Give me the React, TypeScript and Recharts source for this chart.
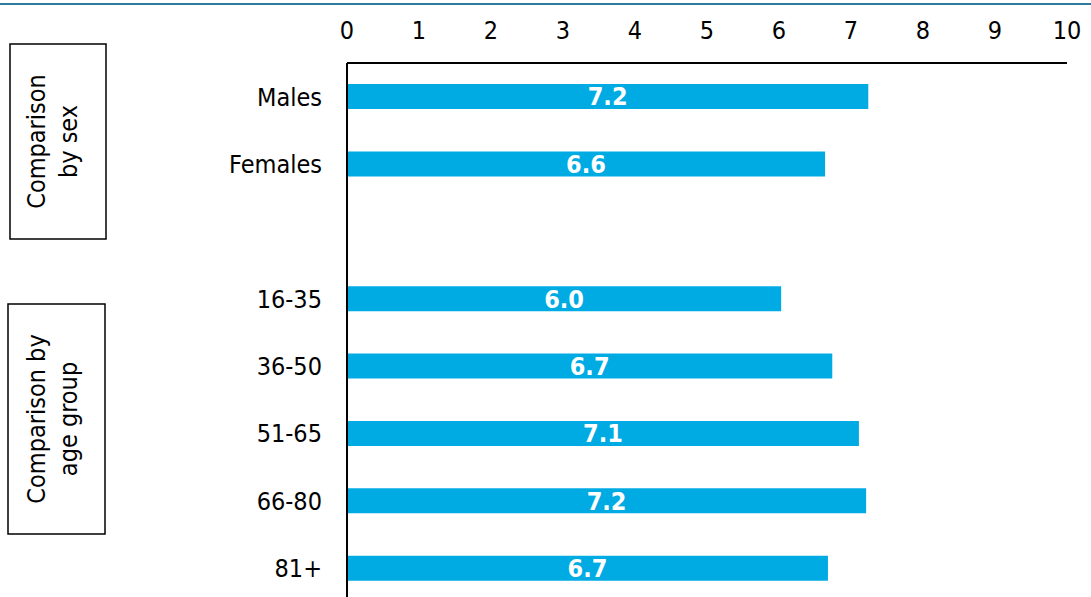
import { BarChart, Bar, XAxis, YAxis, LabelList } from 'recharts';

// Mean scores, grouped by sex and by age band (blank row separates the groups)
const groups = ['Males', 'Females', '', '16-35', '36-50', '51-65', '66-80', '81+'];
const scores: (number | null)[] = [7.24, 6.64, null, 6.03, 6.74, 7.11, 7.21, 6.68];
const scaleTicks = [0, 1, 2, 3, 4, 5, 6, 7, 8, 9, 10];

const rows = groups.map((name, i) => ({ name, score: scores[i] }));

const FONT = "'DejaVu Sans Condensed', 'DejaVu Sans', sans-serif";
const BAR_COLOR = '#00ABE3';

function SideBox({ x, y, w, h, lines, baselines }: {
  x: number; y: number; w: number; h: number; lines: string[]; baselines: number[];
}) {
  const cy = y + h / 2;
  return (
    <g>
      <rect x={x} y={y} width={w} height={h} fill="#fff" stroke="#000" strokeWidth={1.5} />
      {lines.map((t, i) => (
        <text
          key={t}
          transform={`translate(${baselines[i]}, ${cy}) rotate(-90)`}
          textAnchor="middle"
          fontSize={25}
          fill="#000"
        >
          {t}
        </text>
      ))}
    </g>
  );
}

export default function App() {
  return (
    <div
      style={{
        position: 'absolute', left: 0, top: 0, width: 1091, height: 597,
        overflow: 'hidden', background: '#fff', fontFamily: FONT,
      }}
    >
      <div style={{ position: 'absolute', left: 0, top: 3, width: 1091, height: 2, background: '#2F7BA0' }} />
      <BarChart
        width={1091}
        height={620}
        data={rows}
        layout="vertical"
        margin={{ top: 0, right: 24, left: 0, bottom: 18 }}
        barSize={25}
        style={{ fontFamily: FONT }}
      >
        <XAxis
          type="number"
          orientation="top"
          domain={[0, 10]}
          ticks={scaleTicks}
          interval={0}
          height={63}
          tickSize={0}
          tickMargin={24}
          tickLine={false}
          axisLine={{ stroke: '#000', strokeWidth: 2 }}
          tick={{ fill: '#000', fontSize: 25, fontFamily: FONT }}
        />
        <YAxis
          type="category"
          dataKey="name"
          width={347}
          tickSize={0}
          tickMargin={25}
          tickLine={false}
          interval={0}
          axisLine={{ stroke: '#000', strokeWidth: 2 }}
          tick={{ fill: '#000', fontSize: 25, fontFamily: FONT }}
        />
        <Bar dataKey="score" fill={BAR_COLOR} isAnimationActive={false}>
          <LabelList
            dataKey="score"
            position="center"
            fill="#fff"
            fontSize={25}
            fontWeight="bold"
            fontFamily={FONT}
            formatter={(v: any) => (typeof v === 'number' ? v.toFixed(1) : '')}
          />
        </Bar>
      </BarChart>
      <svg
        width={1091}
        height={597}
        style={{ position: 'absolute', left: 0, top: 0, pointerEvents: 'none', fontFamily: FONT }}
      >
        <SideBox x={10} y={44} w={96} h={195} lines={['Comparison', 'by sex']} baselines={[45, 77]} />
        <SideBox x={8} y={304} w={97} h={230} lines={['Comparison by', 'age group']} baselines={[45, 77]} />
      </svg>
    </div>
  );
}
